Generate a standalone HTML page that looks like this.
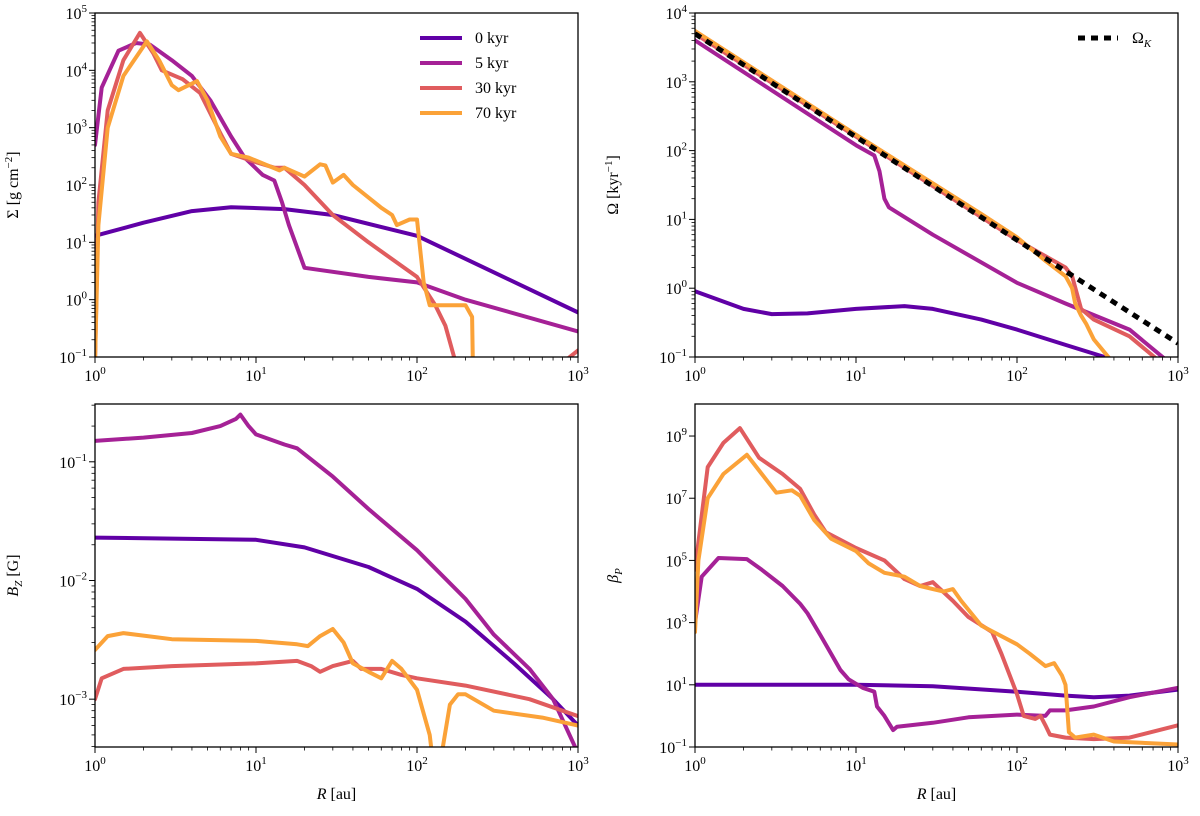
<!DOCTYPE html>
<html><head><meta charset="utf-8"><style>
body{margin:0;background:#fff;}
svg{display:block;font-family:"Liberation Serif",serif;}
</style></head><body>
<svg id="fig" width="1200" height="816" viewBox="0 0 1200 816"></svg>
<script>
const categories=["0 kyr","5 kyr","30 kyr","70 kyr"];
const colors=["#6000a6","#a52196","#e05c5e","#fba238"];
// Sigma panel
const sigR0=[1,2,4,7,15,30,100,300,1000];
const sigV0=[13,22,35,41,38,30,13,3,0.6];
const sigR1=[1,1.1,1.4,1.8,2.2,3,4,5.2,6,7,8.5,11,13,14.5,16,20,50,100,200,1000];
const sigV1=[500,5000,22000,30000,28000,15000,8000,3000,1500,700,300,150,120,50,20,3.6,2.5,2,1.0,0.28];
const sigR2=[1,1.05,1.2,1.5,1.9,2.3,2.6,3.5,4.5,6,7,10,13,15,20,30,50,100,130,150,170,172,650,1000];
const sigV2=[0.08,50,2000,15000,45000,20000,10000,7000,4000,800,350,250,200,200,100,30,10,2.5,0.8,0.35,0.1,0.01,0.05,0.13];
const sigR3=[1,1.05,1.2,1.5,2.1,2.5,3.0,3.3,4.3,5,6,7,9,14,15,20,25,27,30,35,40,60,70,75,90,100,110,120,200,220,225];
const sigV3=[0.08,20,1000,8000,32000,15000,5500,4500,6500,3000,700,350,300,180,200,140,230,220,110,150,100,40,30,20,25,25,2,0.8,0.8,0.5,0.01];
// Omega panel
const omR0=[1,2,3,5,10,20,30,60,100,200,350,450];
const omV0=[0.9,0.5,0.42,0.43,0.5,0.55,0.5,0.35,0.25,0.15,0.1,0.07];
const omR1=[1,10,13,14,15,16,30,100,200,500,900];
const omV1=[4000,120,85,50,20,15,6,1.2,0.6,0.25,0.08];
const omR2=[1,10,100,200,220,250,300,500,800];
const omV2=[5000,160,5,2,1.5,0.5,0.35,0.2,0.08];
const omR3=[1,10,60,100,150,200,220,230,250,270,300,400];
const omV3=[5500,170,12,5.5,2.5,1.5,1.0,0.6,0.4,0.3,0.18,0.08];
const kepR=[1,1000];
const kepV=[5000,0.158];
// Bz panel
const bzR0=[1,10,20,50,100,200,400,700,1000];
const bzV0=[0.023,0.022,0.019,0.013,0.0085,0.0045,0.002,0.001,0.0006];
const bzR1=[1,2,4,6,7.5,8,9,10,15,18,30,50,100,200,300,500,700,1000];
const bzV1=[0.15,0.16,0.175,0.2,0.23,0.25,0.2,0.17,0.14,0.13,0.075,0.04,0.018,0.007,0.0035,0.0018,0.001,0.00035];
const bzR2=[1,1.1,1.5,3,10,18,22,25,30,40,45,60,80,100,200,500,1000];
const bzV2=[0.001,0.0015,0.0018,0.0019,0.002,0.0021,0.0019,0.0017,0.0019,0.0021,0.0018,0.0018,0.0016,0.0015,0.0013,0.001,0.00072];
const bzR3=[1,1.2,1.5,3,10,18,21,25,30,35,40,50,60,70,80,100,120,130,140,160,180,200,300,600,1000];
const bzV3=[0.0026,0.0034,0.0036,0.0032,0.0031,0.0029,0.0028,0.0034,0.0039,0.003,0.002,0.0017,0.0015,0.0021,0.0018,0.0012,0.0005,0.0002,0.0003,0.0009,0.0011,0.0011,0.0008,0.0007,0.0006];
// beta panel
const btR0=[1,10,30,100,200,300,500,1000];
const btV0=[10,10,9,6,4.5,4,4.5,7];
const btR1=[1,1.1,1.4,2.1,2.6,3.5,4.5,5,6,7,8,9,11,13,13.5,15,17,18,30,50,100,150,160,200,300,500,1000];
const btV1=[1000,30000,120000,110000,50000,15000,4000,2000,400,100,30,15,8,6,2,1,0.35,0.45,0.6,0.9,1.1,1.0,1.5,1.5,2,4,8];
const btR2=[1,1.2,1.5,1.9,2.5,3.5,4.5,5.5,6.5,10,15,20,25,30,40,50,70,80,100,110,130,140,150,160,200,300,500,1000];
const btV2=[50000,1e8,6e8,1.8e9,2e8,6e7,2e7,3e6,8e5,2.5e5,1e5,2.5e4,1.5e4,2e4,5e3,1.5e3,500,100,5,1,0.8,1,0.5,0.25,0.2,0.18,0.2,0.5];
const btR3=[1,1.05,1.2,1.5,2.1,2.6,3.2,4,4.5,5.5,7,10,12,15,20,25,30,35,40,45,60,100,120,150,170,190,200,210,230,300,400,1000];
const btV3=[500,1e5,1e7,6e7,2.5e8,6e7,1.5e7,1.8e7,1.2e7,2e6,5e5,2e5,8e4,4e4,3e4,1.5e4,1.2e4,1e4,1.2e4,5e3,800,200,100,40,50,20,10,0.3,0.2,0.25,0.15,0.12];

const NS="http://www.w3.org/2000/svg";
const svg=document.getElementById('fig');
function mk(tag,attrs,parent){const e=document.createElementNS(NS,tag);for(const k in attrs)e.setAttribute(k,attrs[k]);(parent||svg).appendChild(e);return e;}

const panels=[
 {id:'sigma',x0:95,x1:578,y0:13,y1:357,lmin:-1,lmax:5,labStep:1,minor:true,ylabel:'Σ [g cm',sup:'−2',close:']',
  series:[[sigR0,sigV0],[sigR1,sigV1],[sigR2,sigV2],[sigR3,sigV3]],xlabel:false},
 {id:'omega',x0:695,x1:1178,y0:13,y1:357,lmin:-1,lmax:4,labStep:1,minor:true,ylabel:'Ω [kyr',sup:'−1',close:']',
  series:[[omR0,omV0],[omR1,omV1],[omR2,omV2],[omR3,omV3]],xlabel:false},
 {id:'bz',x0:95,x1:578,y0:404,y1:747,lmin:-3.403,lmax:-0.513,labStep:1,minor:true,ylabel:'B',sub:'Z',close:' [G]',
  series:[[bzR0,bzV0],[bzR1,bzV1],[bzR2,bzV2],[bzR3,bzV3]],xlabel:true},
 {id:'beta',x0:695,x1:1178,y0:404,y1:747,lmin:-1,lmax:10.03,labStep:2,minor:false,ylabel:'β',sub:'P',close:'',
  series:[[btR0,btV0],[btR1,btV1],[btR2,btV2],[btR3,btV3]],xlabel:true}
];

panels.forEach((p,pi)=>{
 const g=mk('g',{});
 
 
 const xs=r=>p.x0+(Math.log10(r))/3*(p.x1-p.x0);
 const ys=v=>p.y1-(Math.log10(v)-p.lmin)/(p.lmax-p.lmin)*(p.y1-p.y0);
 const cp=mk('clipPath',{id:'cp'+pi},g);
 mk('rect',{x:p.x0,y:p.y0,width:p.x1-p.x0,height:p.y1-p.y0},cp);
 const lg=mk('g',{'clip-path':'url(#cp'+pi+')'},g);
 p.series.forEach((s,si)=>{
  const pts=s[0].map((r,i)=>xs(r).toFixed(1)+','+ys(s[1][i]).toFixed(1)).join(' ');
  const pl=mk('polyline',{points:pts,fill:'none',stroke:colors[si],'stroke-width':4,'stroke-linejoin':'round','stroke-linecap':'round'},lg);
  
  
 });
 if(p.id==='omega'){
  const pts=kepR.map((r,i)=>xs(r)+','+ys(kepV[i])).join(' ');
  const kl=mk('polyline',{points:pts,fill:'none',stroke:'#000','stroke-width':5,'stroke-dasharray':'7,6'},lg);
  
  
 }
 mk('rect',{x:p.x0,y:p.y0,width:p.x1-p.x0,height:p.y1-p.y0,fill:'none',stroke:'#000','stroke-width':1.3},g);
 for(let d=0;d<=3;d++){
  const x=xs(Math.pow(10,d));
  mk('line',{x1:x,x2:x,y1:p.y1,y2:p.y1+6,stroke:'#000','stroke-width':1},g);
  const t=mk('text',{x:x,y:p.y1+24,'font-size':16,'text-anchor':'middle'},g);
  t.innerHTML='10<tspan dy="-7" font-size="11">'+d+'</tspan>';
  
  
  if(d<3)for(let m=2;m<=9;m++){const xm=xs(m*Math.pow(10,d));mk('line',{x1:xm,x2:xm,y1:p.y1,y2:p.y1+3.5,stroke:'#000','stroke-width':0.8},g);}
 }
 for(let d=Math.ceil(p.lmin);d<=Math.floor(p.lmax);d++){
  const y=ys(Math.pow(10,d));
  if(p.labStep===1||((d+1)%2===0)){
   mk('line',{x1:p.x0-6,x2:p.x0,y1:y,y2:y,stroke:'#000','stroke-width':1},g);
   const t=mk('text',{x:p.x0-8,y:y+6,'font-size':16,'text-anchor':'end'},g);
   t.innerHTML='10<tspan dy="-7" font-size="11">'+(d<0?'−'+(-d):d)+'</tspan>';
   
   
  }
 }
 if(p.minor){
  for(let d=Math.floor(p.lmin);d<=Math.ceil(p.lmax);d++)for(let m=2;m<=9;m++){
   const l=d+Math.log10(m);if(l<p.lmin||l>p.lmax)continue;
   const y=ys(Math.pow(10,l));mk('line',{x1:p.x0-3.5,x2:p.x0,y1:y,y2:y,stroke:'#000','stroke-width':0.8},g);
  }
 }
 const lx=p.x0-77, ly=(p.y0+p.y1)/2;
 const yl=mk('text',{x:lx,y:ly,'font-size':16,'text-anchor':'middle',transform:'rotate(-90 '+lx+' '+ly+')'},g);
 if(p.sup)yl.innerHTML=p.ylabel+'<tspan dy="-6" font-size="11">'+p.sup+'</tspan><tspan dy="6">'+p.close+'</tspan>';
 else yl.innerHTML='<tspan font-style="italic">'+p.ylabel+'</tspan><tspan dy="4" font-size="11" font-style="italic">'+p.sub+'</tspan><tspan dy="-4">'+p.close+'</tspan>';
 
 
 if(p.xlabel){
  const xl=mk('text',{x:(p.x0+p.x1)/2,y:p.y1+52,'font-size':16,'text-anchor':'middle'},g);
  xl.innerHTML='<tspan font-style="italic">R</tspan> [au]';
  
  
 }
});
categories.forEach((c,i)=>{
 const y=38+i*25;
 const ln=mk('line',{x1:420,x2:462,y1:y,y2:y,stroke:colors[i],'stroke-width':4});
 
 
 const t=mk('text',{x:475,y:y+5,'font-size':16});
 t.textContent=c;
 
 
});
const kl=mk('line',{x1:1078,x2:1118,y1:38,y2:38,stroke:'#000','stroke-width':5,'stroke-dasharray':'7,6'});


const kt=mk('text',{x:1132,y:43,'font-size':16});
kt.innerHTML='Ω<tspan dy="4" font-size="11" font-style="italic">K</tspan>';


</script>
</body></html>
